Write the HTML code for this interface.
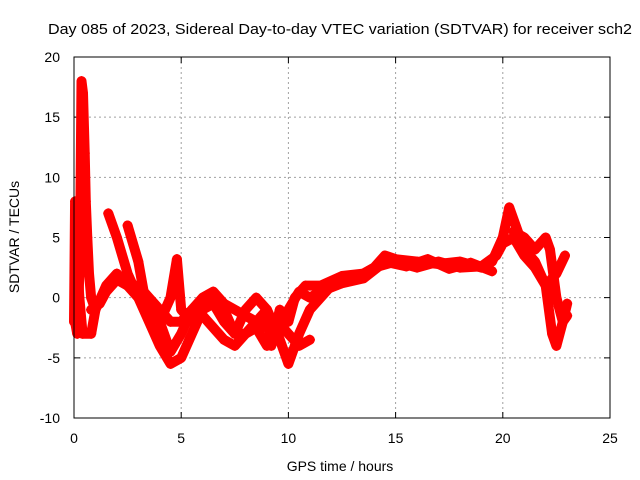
<!DOCTYPE html>
<html><head><meta charset="utf-8"><style>body{margin:0;background:#fff}svg{display:block;font-family:"Liberation Sans",sans-serif}</style></head>
<body>
<svg id="chart" width="640" height="480">
<text x="340" y="34" text-anchor="middle" font-size="15" textLength="584" lengthAdjust="spacingAndGlyphs">Day 085 of 2023, Sidereal Day-to-day VTEC variation (SDTVAR) for receiver sch2</text>
<text x="340" y="471" text-anchor="middle" font-size="14">GPS time / hours</text>
<text transform="translate(19,237) rotate(-90)" text-anchor="middle" font-size="14">SDTVAR / TECUs</text>
<g id="grid"></g><g id="axes"></g><g id="data"></g>
<rect x="74" y="57" width="536" height="361" fill="none" stroke="#000"/>
</svg>
<script>
const xTicks=[0,5,10,15,20,25];
const yTicks=[-10,-5,0,5,10,15,20];
const traceA_x=[0.05,0.15,0.25,0.3,0.35,0.42,0.5,0.55,0.62,0.7,0.8,1.0];
const traceA_y=[-2,-3,2,8,18,17,12,8,5,2,0,-1];
const traceB_x=[0,0.05,0.15,0.25,0.4,0.8,1.0,1.5,2,2.5,3,3.5,4,4.5,5,5.5,6,6.5,7,7.5,8,8.5,9,9.5,10,10.5,11,12,13,14,14.5,15,16,17,18,19,19.5,20,20.3,20.6,21,21.5,22,22.3,22.5,22.8,23];
const traceB_y=[-2,8,3,0,-3,-3,-1,1,2,1,0,-2,-4,-5.5,-5,-3,-1,0,-1,-3,-3,-2,-1,-3,-5.5,-3,-1,1,1.5,2.5,3.5,3.2,3,2.8,3,2.5,3,5,7.5,6,4,3,1,-3,-4,-2,-0.5];
const traceC_x=[1.6,2,2.5,3,3.5,4,4.5,4.8,5,5.5,6,6.5,7,7.5,8,8.5,9,9.2,9.6,10,10.3,10.8,11.5,12.5,13.5,14,15,16,17,18,19,19.7,20,20.5,21,21.5,22,22.5,22.9];
const traceC_y=[7,5,2,0,-1,-2,0,3.2,-1,-2,-1,-0.5,-2,-3,-1,0,-1,-4,-1,-2,0,1,1,1.8,2,2.5,3,2.5,3,2.5,2.6,3.5,4.5,5,3.5,2.5,1,2,3.5];
const traceD_x=[2.5,3,3.3,3.5,4,4.5,5,5.5,6,6.5,7,7.5,8,8.5,9,9.5,10,10.5,11];
const traceD_y=[6,3,0,-1,-2,-4.5,-3,-1,-1.5,-2.5,-3.5,-4,-3,-2.5,-4,-2,-3,-4,-3.5];
const traceE_x=[20.5,21,21.5,22,22.2,22.5,22.8,23];
const traceE_y=[5.5,5,4,5,4,0,-2,-1.5];
const traceF_x=[0.8,1.2,1.5,2,2.5,3,3.5,4,4.5,5,5.5,6,6.5,7,7.5,8,8.5,9,9.5,10,10.5,11,11.5,12.5,13.5,14.5,15.5,16.5,17.5,18.5,19.5];
const traceF_y=[-1,-0.5,0.5,1.5,1,1,0,-1,-2,-2,-1,0,0.5,-0.5,-1,-1.5,-2,-2.5,-3,-1,0.5,0,0.5,1.2,1.6,3,2.6,3.2,2.4,2.9,2.2];
const traces=[[traceA_x,traceA_y],[traceB_x,traceB_y],[traceC_x,traceC_y],[traceD_x,traceD_y],[traceE_x,traceE_y],[traceF_x,traceF_y]];
const NS="http://www.w3.org/2000/svg";
const X=v=>74+v*536/25, Y=v=>418-(v+10)*361/30;
const grid=document.getElementById('grid'),axes=document.getElementById('axes'),data=document.getElementById('data');
function mk(t,a){const e=document.createElementNS(NS,t);for(const k in a)e.setAttribute(k,a[k]);return e;}
xTicks.forEach(t=>{
 if(t>0&&t<25){const g=mk('line',{x1:X(t),x2:X(t),y1:57,y2:418,stroke:'#a0a0a0','stroke-dasharray':'2,3'});
 
 grid.appendChild(g);}
 const tk=mk('path',{d:`M${X(t)} 418v-6M${X(t)} 57v6`,stroke:'#000'});
 
 axes.appendChild(tk);
 const l=mk('text',{x:X(t),y:443,'text-anchor':'middle','font-size':'14'});l.textContent=t;
 
 axes.appendChild(l);
});
yTicks.forEach(t=>{
 if(t>-10&&t<20){const g=mk('line',{x1:74,x2:610,y1:Y(t),y2:Y(t),stroke:'#a0a0a0','stroke-dasharray':'2,3'});
 
 grid.appendChild(g);}
 const tk=mk('path',{d:`M74 ${Y(t)}h6M610 ${Y(t)}h-6`,stroke:'#000'});
 
 axes.appendChild(tk);
 const l=mk('text',{x:60,y:Y(t)+5,'text-anchor':'end','font-size':'14'});l.textContent=t;
 
 axes.appendChild(l);
});
traces.forEach(([xs,ys])=>{
 const pts=xs.map((x,i)=>X(x)+','+Y(ys[i])).join(' ');
 const p=mk('polyline',{points:pts,fill:'none',stroke:'#ff0000','stroke-width':'10','stroke-linejoin':'round','stroke-linecap':'round'});
 
 data.appendChild(p);
 xs.forEach((x,i)=>{const m=mk('path',{d:`M${X(x)-5} ${Y(ys[i])}h10M${X(x)} ${Y(ys[i])-5}v10`,stroke:'#ff0000','stroke-width':'1.5'});
 
 data.appendChild(m);});
});
</script>
</body></html>
